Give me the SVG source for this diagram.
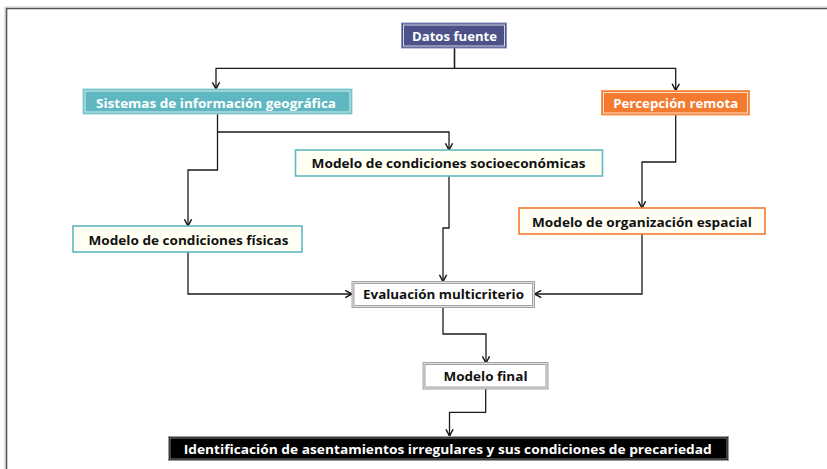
<svg xmlns="http://www.w3.org/2000/svg" width="827" height="469" viewBox="0 0 827 469">
  <style>
    text { font-family: "Open Sans", "Noto Sans", "Liberation Sans", sans-serif; font-weight: 700; font-size: 13px; text-anchor: middle; }
    .w { fill: #ffffff; }
    .k { fill: #111111; }
    .inner { fill: none; stroke: #ffffff; stroke-width: 0.9; opacity: 0.85; }
    .cream { fill: #fffff3; stroke-width: 1.6; }
    .teal { stroke: #5fb8c1; }
    .orange { stroke: #f47a30; }
    .gray { fill: #ffffff; stroke: #a3a3a3; stroke-width: 3; }
    .grayin { fill: none; stroke: #e6e6e6; stroke-width: 0.9; }
    .conn { fill: none; stroke: #1a1a1a; stroke-width: 1.3; marker-end: url(#arr); }
  </style>
  <defs>
    <marker id="arr" viewBox="0 0 10 10" refX="9.5" refY="5" markerWidth="9" markerHeight="9" markerUnits="userSpaceOnUse" orient="auto">
      <path d="M2,1 L9.5,5 L2,9" fill="none" stroke="#111" stroke-width="1.6"/>
    </marker>
  </defs>
  <rect width="827" height="469" fill="#ffffff"/>
  <path d="M6.5,469 V8.5 H827" fill="none" stroke="#555" stroke-width="1.6"/>
  <path d="M5,469 V7 H827" fill="none" stroke="#bbb" stroke-width="0.8"/>

  <g id="connectors">
    <path class="conn" d="M454.5,48 V68.3 H216 V89"/>
    <path class="conn" d="M454.5,48 V68.3 H675.7 V90.5"/>
    <path class="conn" d="M217.5,114 V170 H188 V226"/>
    <path class="conn" d="M217.5,132 H449 V150"/>
    <path class="conn" d="M449,176 V228 H443 V281.5"/>
    <path class="conn" d="M675.7,115 V162 H642 V208"/>
    <path class="conn" d="M188,252 V294 H352"/>
    <path class="conn" d="M642,234 V294 H534.5"/>
    <path class="conn" d="M443,307 V334 H486 V363"/>
    <path class="conn" d="M485.7,388.5 V412.3 H449.5 V436"/>
  </g>

  <g id="datos-fuente">
    <rect x="401.5" y="23" width="105" height="25" fill="#4b5189" stroke="#8a90bf" stroke-width="1"/>
    <rect class="inner" x="403.5" y="25" width="101" height="21"/>
    <text class="w" x="454.5" y="41" textLength="85" lengthAdjust="spacingAndGlyphs">Datos fuente</text>
  </g>

  <g id="sig">
    <rect x="83" y="89" width="269" height="25" fill="#5fb8c1" stroke="#8fd0d5" stroke-width="1"/>
    <rect class="inner" x="85" y="91" width="265" height="21"/>
    <text class="w" x="216" y="107.8" textLength="240" lengthAdjust="spacingAndGlyphs">Sistemas de información geográfica</text>
  </g>

  <g id="percepcion">
    <rect x="601.5" y="90.5" width="148" height="24.5" fill="#f47a30" stroke="#f79a60" stroke-width="1"/>
    <rect class="inner" x="603.5" y="92.5" width="144" height="20.5"/>
    <text class="w" x="675.7" y="108.3" textLength="125" lengthAdjust="spacingAndGlyphs">Percepción remota</text>
  </g>

  <g id="socio">
    <rect class="cream teal" x="295.5" y="150" width="307" height="26"/>
    <text class="k" x="448.6" y="168" textLength="274" lengthAdjust="spacingAndGlyphs">Modelo de condiciones socioeconómicas</text>
  </g>

  <g id="fisicas">
    <rect class="cream teal" x="73" y="226" width="229" height="26"/>
    <text class="k" x="188.5" y="245" textLength="200" lengthAdjust="spacingAndGlyphs">Modelo de condiciones físicas</text>
  </g>

  <g id="organizacion">
    <rect class="cream orange" x="519" y="208" width="246" height="26"/>
    <text class="k" x="642" y="226.7" textLength="220" lengthAdjust="spacingAndGlyphs">Modelo de organización espacial</text>
  </g>

  <g id="evaluacion">
    <rect class="gray" x="353" y="282.5" width="180.5" height="24"/>
    <rect class="grayin" x="353" y="282.5" width="180.5" height="24"/>
    <text class="k" x="443.5" y="298.5" textLength="161" lengthAdjust="spacingAndGlyphs">Evaluación multicriterio</text>
  </g>

  <g id="modelo-final">
    <rect class="gray" x="424" y="363.5" width="123" height="24.5"/>
    <rect class="grayin" x="424" y="363.5" width="123" height="24.5"/>
    <text class="k" x="485.5" y="381" textLength="84" lengthAdjust="spacingAndGlyphs">Modelo final</text>
  </g>

  <g id="identificacion">
    <rect x="168.5" y="436.5" width="560" height="24" fill="#000" stroke="#9a9a9a" stroke-width="1"/>
    <rect x="170" y="438" width="557" height="21" fill="none" stroke="#d0d0d0" stroke-width="0.6"/>
    <text class="w" x="447.7" y="454" textLength="528" lengthAdjust="spacingAndGlyphs">Identificación de asentamientos irregulares y sus condiciones de precariedad</text>
  </g>
</svg>
